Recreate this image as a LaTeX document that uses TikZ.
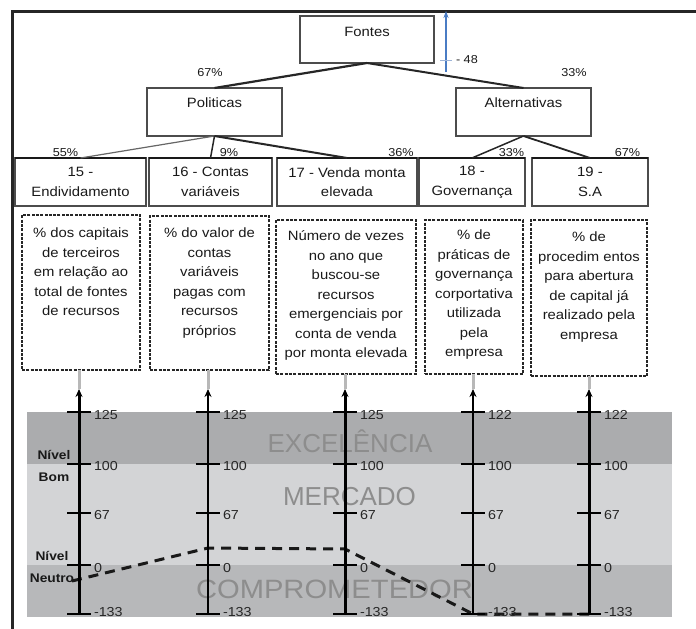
\documentclass[tikz,border=0pt]{standalone}
\usepackage{fontspec}
\setmainfont{Liberation Sans}[FakeStretch=1.1]
\newfontfamily\bandfont{Liberation Sans}
\newfontfamily\bandwidefont{Liberation Sans}[FakeStretch=1.1]
\usetikzlibrary{arrows.meta}

\definecolor{bandhigh}{HTML}{ABACAE}
\definecolor{bandmid}{HTML}{D3D4D6}
\definecolor{bandlow}{HTML}{B7B8BA}
\definecolor{bandword}{HTML}{8D8D8D}
\definecolor{scaleblue}{HTML}{4A7CC4}
\definecolor{scalebluelight}{HTML}{9DB4D8}
\definecolor{stubgray}{HTML}{B8B8B8}

\begin{document}
\begin{tikzpicture}[x=1pt, y=-1pt,
  every node/.style={inner sep=0pt, outer sep=0pt},
  bodytext/.style={font=\fontsize{13.5}{19.5}\selectfont, text=black!90, align=center},
  pcttext/.style={font=\fontsize{11.5}{13}\selectfont, text=black!90},
  headbox/.style={draw=black!70, line width=1.1pt},
  itembox/.style={draw=black!70, line width=1.2pt, minimum height=48pt, bodytext},
  itemtop/.style={draw=black!90, line width=2.6pt},
  descbox/.style={draw=black!85, line width=1.7pt, dash pattern=on 3pt off 1.3pt},
  treelink/.style={draw=black!85, line width=#1},
  treelink/.default=1.8pt,
  frameline/.style={draw=black!85, line width=3pt},
  bandlabel/.style={text=bandword, anchor=base},
  levellabel/.style={font=\bfseries\fontsize{12.5}{22}\selectfont, text=black!90, align=center},
  scaleaxis/.style={draw=black, line width=#1, -{Stealth[length=8pt, width=7pt]}},
  scaletick/.style={draw=black, line width=2.6pt},
  ticklabel/.style={font=\fontsize{13}{15}\selectfont, text=black!85, anchor=west},
  stub/.style={draw=stubgray, line width=3pt},
  profile/.style={draw=black!90, line width=3pt, dash pattern=on 10pt off 7pt}
]
\useasboundingbox (0,0) rectangle (696,629);

% outer frame (top and left edges)
\draw[frameline] (12,629) -- (12,11) -- (696,11);

% ---------- tree of sources ----------
\node[headbox, minimum width=134pt, minimum height=47pt] (fontes) at (367,39.5) {};
\node[bodytext, anchor=north] (fontesT) at ([yshift=-11pt]fontes.north) {Fontes};

\node[headbox, minimum width=135pt, minimum height=48pt] (politicas) at (214.5,112) {};
\node[bodytext, anchor=north] (politicasT) at ([yshift=-10pt]politicas.north) {Politicas};

\node[headbox, minimum width=135pt, minimum height=48pt] (alternativas) at (523.5,112) {};
\node[bodytext, anchor=north] (alternativasT) at ([yshift=-10pt]alternativas.north) {Alternativas};

\draw[treelink=2.2pt] (fontes.south) -- (politicas.north);
\draw[treelink=2pt] (fontes.south) -- (alternativas.north);
\node[pcttext] (p67a) at (210,73) {67\%};
\node[pcttext] (p33a) at (574,73) {33\%};

% indicator boxes
\node[itembox, minimum width=131pt] (b15) at (80.5,182) {15 -\\Endividamento};
\node[itembox, minimum width=123pt] (b16) at (210.5,182) {16 - Contas\\variáveis};
\node[itembox, minimum width=140pt] (b17) at (347,182) {17 - Venda monta\\elevada};
\node[itembox, minimum width=106pt] (b18) at (472,182) {18 -\\Governança};
\node[itembox, minimum width=116pt] (b19) at (590,182) {19 -\\S.A};
\foreach \b in {b15,b16,b17,b18,b19}
  \draw[itemtop] (\b.north west) -- (\b.north east);

\draw[treelink=1.2pt, draw=black!60] (politicas.south) -- (b15.north);
\draw[treelink=1.5pt] (politicas.south) -- (b16.north);
\draw[treelink=2pt] (politicas.south) -- (b17.north);
\draw[treelink=1.5pt] (alternativas.south) -- (b18.north);
\draw[treelink=1.8pt] (alternativas.south) -- (b19.north);

\node[pcttext] (p55) at (65.5,153) {55\%};
\node[pcttext] (p9) at (229,153) {9\%};
\node[pcttext] (p36) at (401,153) {36\%};
\node[pcttext] (p33b) at (511.5,153) {33\%};
\node[pcttext] (p67b) at (627.5,153) {67\%};

% ---------- indicator descriptions ----------
\node[descbox, minimum width=118pt, minimum height=155pt] (dA) at (81,292.5) {};
\node[bodytext, anchor=north] (dAT) at ([yshift=-13pt]dA.north)
  {\% dos capitais\\de terceiros\\em relação ao\\total de fontes\\de recursos};

\node[descbox, minimum width=119pt, minimum height=154pt] (dB) at (209.5,293) {};
\node[bodytext, anchor=north] (dBT) at ([yshift=-12pt]dB.north)
  {\% do valor de\\contas\\variáveis\\pagas com\\recursos\\próprios};

\node[descbox, minimum width=140pt, minimum height=154pt] (dC) at (346,297) {};
\node[bodytext, anchor=north] (dCT) at ([yshift=-11pt]dC.north)
  {Número de vezes\\no ano que\\buscou-se\\recursos\\emergenciais por\\conta de venda\\por monta elevada};

\node[descbox, minimum width=98pt, minimum height=154pt] (dD) at (474,297) {};
\node[bodytext, anchor=north] (dDT) at ([yshift=-10pt]dD.north)
  {\% de\\práticas de\\governança\\corportativa\\utilizada\\pela\\empresa};

\node[descbox, minimum width=116pt, minimum height=156pt] (dE) at (589,298) {};
\node[bodytext, anchor=north] (dET) at ([yshift=-12pt]dE.north)
  {\% de\\procedim entos\\para abertura\\de capital já\\realizado pela\\empresa};

% ---------- evaluation bands ----------
\fill[bandhigh] (27,412) rectangle (672,464);
\fill[bandmid] (27,464) rectangle (672,565);
\fill[bandlow] (27,565) rectangle (672,617);

\node[bandlabel, font=\bandfont\fontsize{26}{30}\selectfont] (wExc) at (350,452) {EXCELÊNCIA};
\node[bandlabel, font=\bandfont\fontsize{26}{30}\selectfont] (wMer) at (349.5,505) {MERCADO};
\node[bandlabel, font=\bandwidefont\fontsize{26.5}{30}\selectfont] (wCom) at (334.5,598) {COMPROMETEDOR};

\node[levellabel] (nBom) at (54,466) {Nível\\Bom};
\node[levellabel] (nNeutro) at (52,567) {Nível\\Neutro};

% performance profile across the indicators
\coordinate (pf1) at (72,581);
\coordinate (pf2) at (208,548);
\coordinate (pf3) at (345,549);
\coordinate (pf4) at (473,614);
\coordinate (pf5) at (589,614);
\draw[profile] (pf1) -- (pf2) -- (pf3) -- (pf4) -- (pf5);

% ---------- descriptor scales ----------
\foreach \n/\x/\t/\w/\d in {1/79/125/3pt/dA, 2/208/125/2.4pt/dB, 3/345/125/3pt/dC, 4/473/122/2.2pt/dD, 5/589/122/3pt/dE} {
  \coordinate (ax\n-top) at (\x,389);
  \coordinate (ax\n-bot) at (\x,614);
  \draw[stub] (\d.south -| ax\n-top) -- (ax\n-top);
  \draw[scaleaxis=\w] (ax\n-bot) -- (ax\n-top);
  \foreach \y/\v/\o [count=\k] in {412/\t/3, 464/100/2, 513/67/2, 565/0/3, 614/-133/-2} {
    \draw[scaletick] (\x-12,\y) -- (\x+12,\y);
    \node[ticklabel] (lbl\n-\k) at (\x+15,\y+\o) {\v};
  }
}

% reference marker beside the root
\coordinate (blueFoot) at (446,72);
\coordinate (blueTip) at (446,11);
\draw[draw=scaleblue, line width=1.2pt, -{Stealth[length=7pt, width=5pt]}] (blueFoot) -- (blueTip);
\draw[draw=scalebluelight, line width=1pt] (440,60) -- (452,60);
\node[pcttext, anchor=west] (m48) at (456,60) {- 48};
\end{tikzpicture}
\end{document}
